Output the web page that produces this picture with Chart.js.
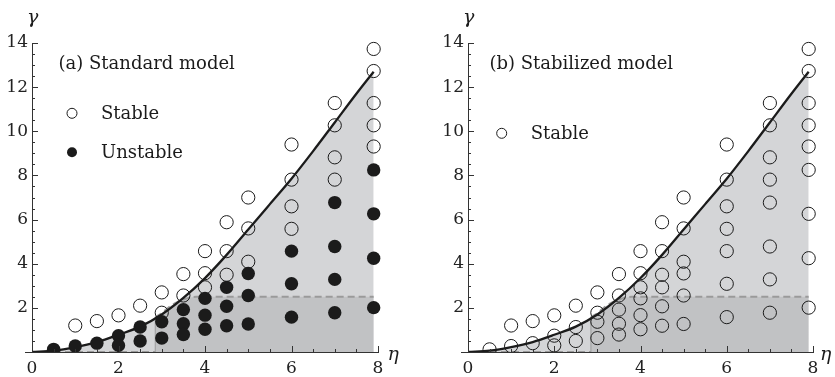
<!DOCTYPE html>
<html>
<head>
<meta charset="utf-8">
<script src="https://cdn.jsdelivr.net/npm/chart.js@4.4.1/dist/chart.umd.min.js"></script>
<style>
  html, body { margin: 0; background: #fff; }
  .wrap { position: relative; width: 835px; height: 377px; overflow: hidden; }
  canvas { position: absolute; top: 0; }
</style>
</head>
<body>
<div class="wrap">
  <canvas id="chartA" width="417" height="377" style="left:0"></canvas>
  <canvas id="chartB" width="418" height="377" style="left:417px"></canvas>
</div>
<script>
// tick labels
const xLabels = [0, 2, 4, 6, 8];
const yLabels = [2, 4, 6, 8, 10, 12, 14];

// stability boundary (solid curve)
const curveEta = [0, 0.5, 1, 1.5, 2, 2.5, 3, 3.5, 4, 4.5, 5, 5.5, 6, 6.5, 7, 7.5, 7.9];
const curveGamma = [0, 0.06, 0.22, 0.45, 0.78, 1.15, 1.7, 2.45, 3.35, 4.4, 5.55, 6.7, 7.85, 9.1, 10.4, 11.7, 12.7];

// dashed threshold bounding the darker region
const threshEta = [0, 2.85, 2.85, 3.0, 3.1, 3.2, 3.3, 3.4, 3.5, 3.6, 3.7, 3.8, 7.9];
const threshGamma = [0, 0, 1.58, 1.75, 1.93, 2.08, 2.2, 2.3, 2.38, 2.44, 2.48, 2.5, 2.5];

// simulation runs [eta, gamma]
const stableA = [
  [1, 1.2], [1.5, 1.4], [2, 1.66], [2.5, 2.1],
  [3, 2.7], [3, 1.78], [3.5, 3.53], [3.5, 2.56],
  [4, 4.57], [4, 3.57], [4, 2.93], [4.5, 5.88], [4.5, 4.57], [4.5, 3.5],
  [5, 7.0], [5, 5.6], [5, 4.09],
  [6, 9.4], [6, 7.81], [6, 6.6], [6, 5.58],
  [7, 11.28], [7, 10.27], [7, 8.82], [7, 7.81],
  [7.9, 13.73], [7.9, 12.73], [7.9, 11.28], [7.9, 10.27], [7.9, 9.31]
];
const unstableA = [
  [0.5, 0.12], [1, 0.27], [1.5, 0.4], [2, 0.74], [2, 0.3], [2.5, 1.13], [2.5, 0.5],
  [3, 1.37], [3, 0.63], [3.5, 1.92], [3.5, 1.28], [3.5, 0.79],
  [4, 2.43], [4, 1.67], [4, 1.03], [4.5, 2.93], [4.5, 2.07], [4.5, 1.19],
  [5, 3.56], [5, 2.56], [5, 1.27], [6, 4.57], [6, 3.09], [6, 1.58],
  [7, 6.77], [7, 4.78], [7, 3.29], [7, 1.78],
  [7.9, 8.25], [7.9, 6.26], [7.9, 4.25], [7.9, 2.01]
];
const stableB = stableA.concat(unstableA);
const unstableB = [];

const titleA = '(a) Standard model';
const titleB = '(b) Stabilized model';
const legendA = ['Stable', 'Unstable'];
const legendB = ['Stable'];

Chart.defaults.font.family = '"DejaVu Serif", serif';
Chart.defaults.font.size = 17;
Chart.defaults.color = '#222';

const INK = '#1b1b1b';
const DASH = '#9a9a9a';

function toXY(xs, ys) {
  return xs.map((x, i) => ({ x, y: ys[i] }));
}
function pairs(list) {
  return list.map(([x, y]) => ({ x, y }));
}

const decor = {
  id: 'decor',
  afterDraw(chart, args, opts) {
    const { ctx, chartArea: a, scales: { x, y } } = chart;
    ctx.save();
    ctx.strokeStyle = '#333';
    ctx.lineWidth = 1;
    ctx.beginPath();
    x.ticks.forEach(t => {
      const px = Math.round(x.getPixelForValue(t.value)) + 0.5;
      const len = xLabels.includes(t.value) ? 6 : 3;
      ctx.moveTo(px, a.bottom);
      ctx.lineTo(px, a.bottom - len);
    });
    y.ticks.forEach(t => {
      const py = Math.round(y.getPixelForValue(t.value)) + 0.5;
      const len = yLabels.includes(t.value) ? 6 : 3;
      ctx.moveTo(a.left, py);
      ctx.lineTo(a.left + len, py);
    });
    ctx.moveTo(a.left - 7, Math.round(a.bottom) + 0.5);
    ctx.lineTo(a.left, Math.round(a.bottom) + 0.5);
    ctx.stroke();

    ctx.fillStyle = INK;
    ctx.font = 'italic 19px "DejaVu Serif", serif';
    ctx.textBaseline = 'alphabetic';
    ctx.fillText('γ', a.left - 5, a.top - 20);
    ctx.fillText('η', a.right + opts.etaDx, a.bottom + 8);

    ctx.font = '18px "DejaVu Serif", serif';
    ctx.fillText(opts.title, a.left + opts.titleDx, a.top + 25.5);

    opts.legend.forEach((label, i) => {
      const cy = a.top + opts.legendTop + i * 39;
      ctx.beginPath();
      ctx.arc(a.left + opts.legendDx, cy, 5, 0, Math.PI * 2);
      if (i === 0) {
        ctx.lineWidth = 1;
        ctx.strokeStyle = INK;
        ctx.stroke();
      } else {
        ctx.fill();
      }
      ctx.fillText(label, a.left + opts.legendDx + 29, cy + 6);
    });
    ctx.restore();
  }
};

function makeChart(id, stable, unstable, decorOpts, pad) {
  return new Chart(document.getElementById(id), {
    type: 'line',
    data: {
      datasets: [
        {
          data: toXY(curveEta, curveGamma),
          borderWidth: 0,
          pointRadius: 0,
          fill: 'origin',
          backgroundColor: '#d4d5d7',
          cubicInterpolationMode: 'monotone',
          order: 6,
        },
        {
          data: toXY(threshEta, threshGamma),
          borderColor: DASH,
          borderWidth: 2,
          borderDash: [7, 4],
          pointRadius: 0,
          tension: 0,
          fill: 'origin',
          backgroundColor: '#c1c2c4',
          segment: {
            borderDash: c => (c.p0.parsed.x === c.p1.parsed.x ? [] : [7, 4]),
            borderWidth: c => (c.p0.parsed.x === c.p1.parsed.x ? 1 : 2),
          },
          order: 5,
        },
        {
          data: toXY(curveEta, curveGamma),
          borderColor: INK,
          borderWidth: 2.3,
          pointRadius: 0,
          fill: false,
          cubicInterpolationMode: 'monotone',
          order: 3,
        },
        {
          data: pairs(stable),
          showLine: false,
          fill: false,
          pointRadius: 6.6,
          pointBorderWidth: 1,
          pointBorderColor: INK,
          pointBackgroundColor: 'rgba(0,0,0,0)',
          clip: { left: 0, top: 10, right: 10, bottom: 0 },
          order: 2,
        },
        {
          data: pairs(unstable),
          showLine: false,
          fill: false,
          pointRadius: 6.7,
          pointBorderWidth: 0,
          pointBackgroundColor: INK,
          clip: { left: 0, top: 10, right: 10, bottom: 0 },
          order: 1,
        },
      ],
    },
    options: {
      responsive: false,
      animation: false,
      events: [],
      layout: { padding: pad },
      plugins: {
        legend: { display: false },
        tooltip: { enabled: false },
        decor: decorOpts,
      },
      scales: {
        x: {
          type: 'linear',
          min: 0,
          max: 8,
          grid: { display: false, drawTicks: false },
          border: { display: true, color: '#333', width: 1 },
          ticks: {
            stepSize: 0.5,
            autoSkip: false,
            maxRotation: 0,
            padding: 6,
            callback: v => (xLabels.includes(v) ? String(v) : ''),
          },
          afterFit: s => { s.height = 25; },
        },
        y: {
          type: 'linear',
          min: 0,
          max: 14,
          grid: { display: false, drawTicks: false },
          border: { display: true, color: '#333', width: 1 },
          ticks: {
            stepSize: 0.5,
            autoSkip: false,
            padding: 4,
            callback: v => (yLabels.includes(v) ? String(v) : ''),
          },
          afterFit: s => { s.width = 32; },
        },
      },
    },
    plugins: [decor],
  });
}

makeChart('chartA', stableA, unstableA,
  { title: titleA, legend: legendA, titleDx: 26.5, legendDx: 40, legendTop: 70.3, etaDx: 9.5 },
  { left: 0, right: 39, top: 43, bottom: 0 });
makeChart('chartB', stableB, unstableB,
  { title: titleB, legend: legendB, titleDx: 21.5, legendDx: 33.7, legendTop: 90.3, etaDx: 7 },
  { left: 19, right: 22, top: 43, bottom: 0 });
</script>
</body>
</html>
